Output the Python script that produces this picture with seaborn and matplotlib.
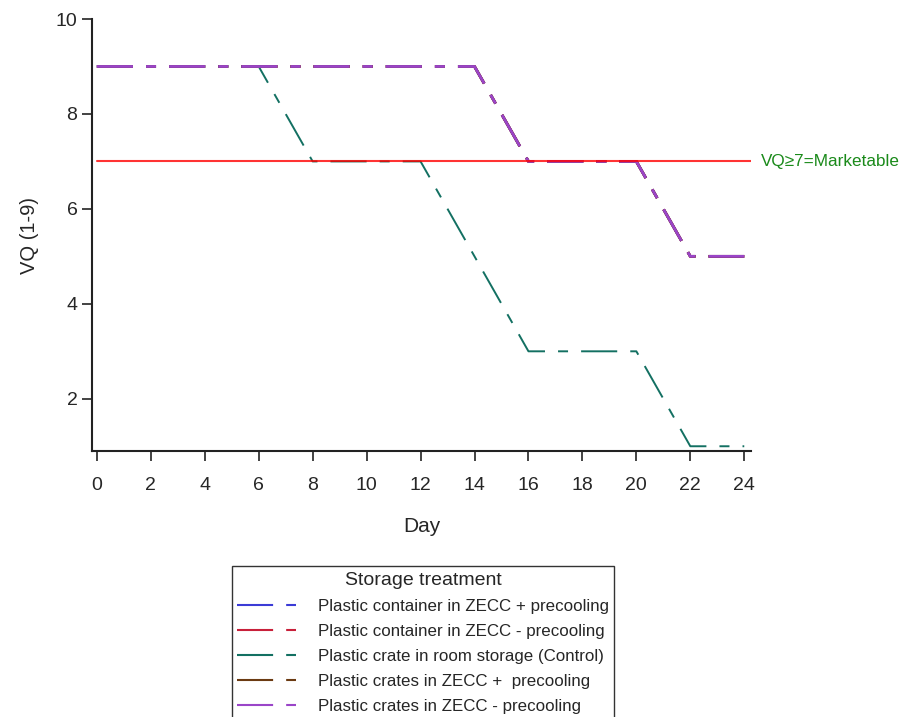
import matplotlib
matplotlib.use("Agg")
import matplotlib.pyplot as plt
import seaborn as sns
import pandas as pd
from matplotlib import font_manager

days = [0, 2, 4, 6, 8, 10, 12, 14, 16, 18, 20, 22, 24]
treatments = [
    "Plastic container in ZECC + precooling",
    "Plastic container in ZECC - precooling",
    "Plastic crate in room storage (Control)",
    "Plastic crates in ZECC +  precooling",
    "Plastic crates in ZECC - precooling",
]
vq_container_plus = [9, 9, 9, 9, 9, 9, 9, 9, 7, 7, 7, 5, 5]
vq_container_minus = [9, 9, 9, 9, 9, 9, 9, 9, 7, 7, 7, 5, 5]
vq_control = [9, 9, 9, 9, 7, 7, 7, 5, 3, 3, 3, 1, 1]
vq_crates_plus = [9, 9, 9, 9, 9, 9, 9, 9, 7, 7, 7, 5, 5]
vq_crates_minus = [9, 9, 9, 9, 9, 9, 9, 9, 7, 7, 7, 5, 5]
colors = ["#3b3bd6", "#c8203a", "#137062", "#6b3a12", "#9a45c8"]
threshold = 7
threshold_label = "VQ\u22657=Marketable"
x_ticks = [0, 2, 4, 6, 8, 10, 12, 14, 16, 18, 20, 22, 24]
y_ticks = [2, 4, 6, 8, 10]

series = [vq_container_plus, vq_container_minus, vq_control, vq_crates_plus, vq_crates_minus]
rows = []
for name, vals in zip(treatments, series):
    for d, v in zip(days, vals):
        rows.append({"Day": d, "VQ": v, "Storage treatment": name})
df = pd.DataFrame(rows)

sns.set_theme(style="ticks")
avail = {f.name for f in font_manager.fontManager.ttflist}
fam = "Liberation Sans Narrow" if "Liberation Sans Narrow" in avail else "Liberation Sans"
plt.rcParams["font.family"] = [fam, "DejaVu Sans"]
plt.rcParams["lines.scale_dashes"] = False

fig = plt.figure(figsize=(9.10, 7.17), dpi=100)
ax = fig.add_axes([92 / 910, 1 - 451 / 717, (751 - 92) / 910, (451 - 19) / 717])

dash = (26, 9.4, 7.2, 9.4)
sns.lineplot(
    data=df, x="Day", y="VQ", hue="Storage treatment", style="Storage treatment",
    palette=dict(zip(treatments, colors)), dashes={t: dash for t in treatments},
    hue_order=treatments, style_order=treatments, ax=ax, linewidth=1.5, legend=True,
)
for i, line in enumerate(ax.get_lines()[:5]):
    line.set_linewidth(2.0 if i != 2 else 1.4)

ax.axhline(threshold, color="#ff0000", lw=1.5, alpha=0.8, zorder=5, xmin=0.007, xmax=1.0)
ax.text(24.6, threshold, threshold_label, color="#1a8a1a", fontsize=12.3, va="center",
        ha="left", clip_on=False)

ax.set_xlim(-0.18, 24.25)
ax.set_ylim(0.9, 10.0)
ax.set_xticks(x_ticks)
ax.set_yticks(y_ticks)
ax.tick_params(axis="both", labelsize=14, length=7, width=1.2, color="#222222", direction="out")
ax.tick_params(axis="x", pad=12)
for s in ["left", "bottom"]:
    ax.spines[s].set_linewidth(1.5)
    ax.spines[s].set_color("#222222")
for s in ["top", "right"]:
    ax.spines[s].set_visible(False)
ax.set_xlabel("Day", fontsize=15, labelpad=16)
ax.set_ylabel("VQ (1-9)", fontsize=14.5, labelpad=12)

handles, labels = ax.get_legend_handles_labels()
ax.get_legend().remove()
leg = fig.legend(
    handles[:5], labels[:5], title="Storage treatment", loc="upper center",
    bbox_to_anchor=(0.465, 1 - 558 / 717), fontsize=12.2, title_fontsize=14,
    frameon=True, fancybox=False, edgecolor="black", handlelength=3.5,
    handletextpad=1.3, labelspacing=0.6, borderpad=0.3,
)
leg.get_frame().set_linewidth(1.0)

fig.savefig("out.png", dpi=100)
